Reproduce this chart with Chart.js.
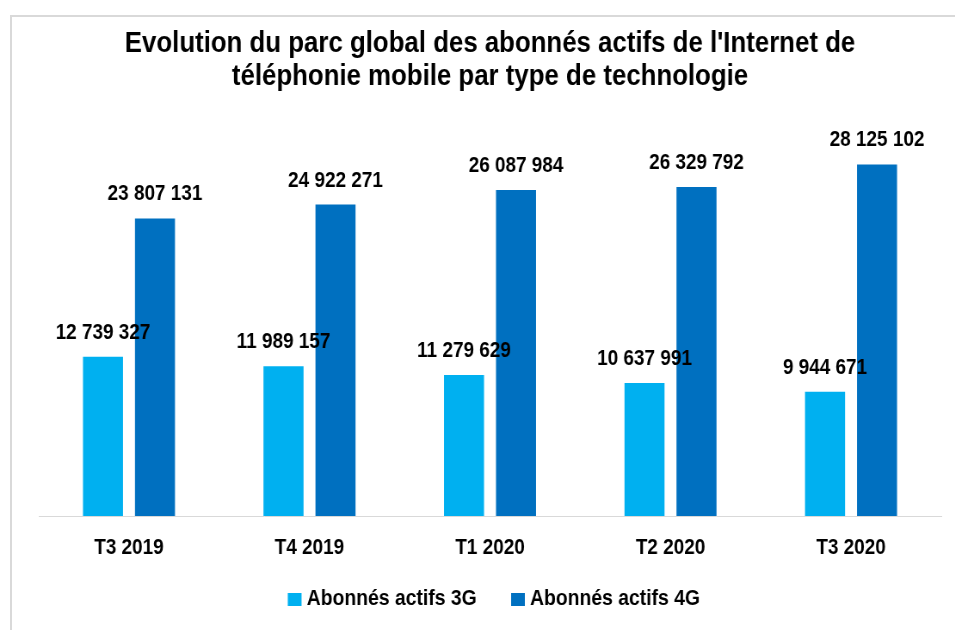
<!DOCTYPE html>
<html>
<head>
<meta charset="utf-8">
<script src="https://cdn.jsdelivr.net/npm/chart.js@4.4.0/dist/chart.umd.min.js"></script>
<style>
  html, body { margin: 0; padding: 0; background: #fff; overflow: hidden; }
  #frame { position: absolute; left: 10px; top: 15px; width: 980px; height: 660px; border: 2px solid #d9d9d9; box-sizing: border-box; }
  /* no narrow font installed: draw wider and squeeze horizontally */
  #wrap { position: absolute; left: 0; top: 0; width: 1110px; height: 630px; transform: scaleX(0.8604); transform-origin: 0 0; }
</style>
</head>
<body>
<div id="frame"></div>
<div id="wrap"><canvas id="chart" width="1110" height="630"></canvas></div>
<script>
// Chart data
const categories = ['T3 2019', 'T4 2019', 'T1 2020', 'T2 2020', 'T3 2020'];
const abonnes3G = [12739327, 11989157, 11279629, 10637991, 9944671];
const abonnes4G = [23807131, 24922271, 26087984, 26329792, 28125102];
const seriesNames = ['Abonnés actifs 3G', 'Abonnés actifs 4G'];
const seriesColors = ['#00b0f0', '#0070c0'];
const titleLines = ["Evolution du parc global des abonnés actifs de l'Internet de", 'téléphonie mobile par type de technologie'];

const FONT = "'Liberation Sans', Arial, sans-serif";

// format 12739327 -> "12 739 327"
function fmt(v) {
    return String(v).replace(/\B(?=(\d{3})+(?!\d))/g, ' ');
}

// draw value above each bar
const valueLabels = {
    id: 'valueLabels',
    afterDatasetsDraw(chart) {
        const ctx = chart.ctx;
        ctx.save();
        ctx.font = 'bold 22px ' + FONT;
        ctx.fillStyle = '#000';
        ctx.textAlign = 'center';
        ctx.textBaseline = 'middle';
        chart.data.datasets.forEach((ds, i) => {
            chart.getDatasetMeta(i).data.forEach((bar, j) => {
                ctx.fillText(fmt(ds.data[j]), bar.x, bar.y - 24);
            });
        });
        ctx.restore();
    }
};

// legend under the axis, with wide gap between the two items
const bottomLegend = {
    id: 'bottomLegend',
    afterDraw(chart) {
        const ctx = chart.ctx;
        ctx.save();
        ctx.font = 'bold 22.5px ' + FONT;
        ctx.textBaseline = 'middle';
        const boxW = 16, boxH = 13, gap = 6, itemGap = 40;
        const widths = chart.data.datasets.map(ds => ctx.measureText(ds.label).width);
        let total = 0;
        widths.forEach((w, i) => { total += boxW + gap + w + (i ? itemGap : 0); });
        let x = 574 - total / 2;
        const y = 599;
        chart.data.datasets.forEach((ds, i) => {
            ctx.fillStyle = ds.backgroundColor;
            ctx.fillRect(x, y - 6, boxW, boxH);
            ctx.fillStyle = '#000';
            ctx.fillText(ds.label, x + boxW + gap, y);
            x += boxW + gap + widths[i] + itemGap;
        });
        ctx.restore();
    }
};

const ctx = document.getElementById('chart').getContext('2d');
const chart = new Chart(ctx, {
    type: 'bar',
    data: {
        labels: categories,
        datasets: seriesNames.map((name, i) => ({
            label: name,
            data: i === 0 ? abonnes3G : abonnes4G,
            backgroundColor: seriesColors[i],
            categoryPercentage: 0.576,
            barPercentage: 0.77
        }))
    },
    options: {
        responsive: false,
        animation: false,
        layout: { padding: { left: 45, right: 16, top: 27, bottom: 74 } },
        scales: {
            x: {
                grid: { display: false },
                border: { color: '#d9d9d9', width: 1 },
                ticks: { color: '#000', font: { family: FONT, size: 22, weight: 'bold' }, padding: 11 },
                afterFit: (scale) => { scale.height = 40; }
            },
            y: {
                display: false,
                min: 0,
                max: 30000000
            }
        },
        plugins: {
            title: {
                display: true,
                text: titleLines,
                color: '#000',
                font: { family: FONT, size: 30, weight: 'bold', lineHeight: 1.1 },
                padding: { top: 0, bottom: 48 }
            },
            legend: { display: false },
            tooltip: { enabled: false }
        }
    },
    plugins: [valueLabels, bottomLegend]
});
</script>
</body>
</html>
